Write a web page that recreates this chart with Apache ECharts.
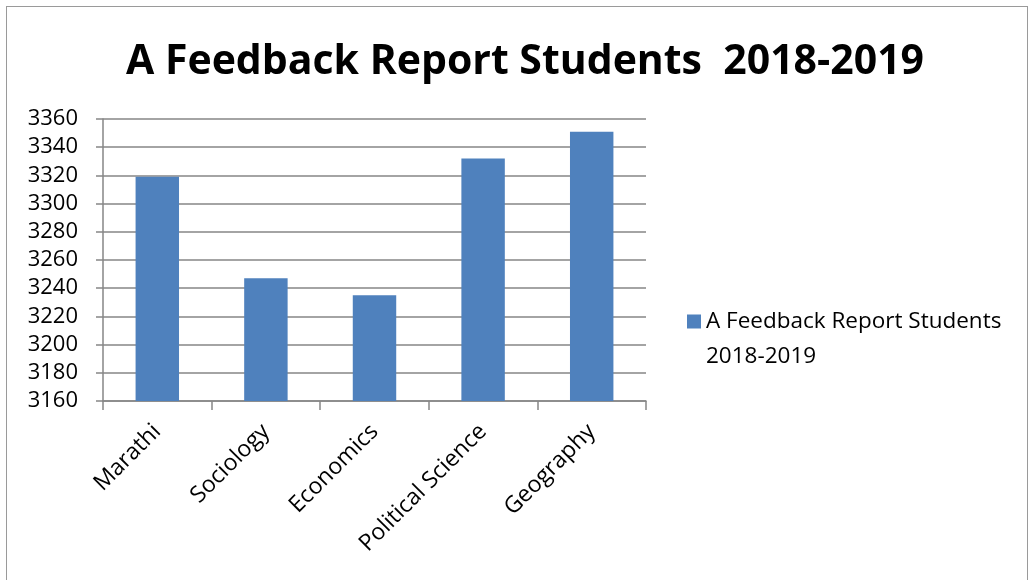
<!DOCTYPE html>
<html>
<head>
<meta charset="utf-8">
<script src="https://cdn.jsdelivr.net/npm/echarts@6/dist/echarts.min.js"></script>
<style>
html,body{margin:0;padding:0;background:#fff;}
#wrap{position:relative;width:1031px;height:580px;overflow:hidden;}
#chart{position:absolute;left:0;top:0;width:1031px;height:580px;}
#frame{position:absolute;left:6px;top:6px;width:1020px;height:620px;border:1px solid #9a9a9a;pointer-events:none;}
</style>
</head>
<body>
<div id="wrap"><div id="chart"></div><div id="frame"></div></div>
<script>
const titleText = 'A Feedback Report Students  2018-2019';
const seriesName = 'A Feedback Report Students 2018-2019';
const categories = ['Marathi', 'Sociology', 'Economics', 'Political Science', 'Geography'];
const values = [3319, 3247, 3235, 3332, 3351];
const yMin = 3160, yMax = 3360, yStep = 20;

const font = '"Open Sans", "Noto Sans", sans-serif';
const chart = echarts.init(document.getElementById('chart'), null, {renderer: 'canvas'});
chart.setOption({
  animation: false,
  backgroundColor: '#ffffff',
  title: {
    text: titleText,
    left: 520, top: 37, textAlign: 'center',
    textStyle: {fontFamily: font, fontWeight: 'bold', fontSize: 41, color: '#000'}
  },
  legend: {
    left: 687, top: 304, padding: 0,
    itemWidth: 14, itemHeight: 49,
    icon: 'path://M0,0H14V14H0Z M0,49H0.01V49Z',
    formatter: function (n) { return 'A Feedback Report Students\n2018-2019'; },
    textStyle: {fontFamily: font, fontSize: 22.5, color: '#000', lineHeight: 35},
    data: [seriesName]
  },
  grid: {left: 103, right: 385, top: 119, bottom: 179, containLabel: false},
  xAxis: {
    type: 'category',
    data: categories,
    boundaryGap: true,
    axisLine: {lineStyle: {color: '#868686', width: 1.5}},
    axisTick: {show: true, length: 9, alignWithLabel: false, lineStyle: {color: '#868686', width: 1.5}},
    axisLabel: {rotate: 45, margin: 27, fontFamily: font, fontSize: 23, color: '#000', interval: 0}
  },
  yAxis: {
    type: 'value',
    min: yMin, max: yMax, interval: yStep,
    axisLine: {show: true, lineStyle: {color: '#868686', width: 1.5}},
    axisTick: {show: true, length: 7, lineStyle: {color: '#868686', width: 1.5}},
    splitLine: {show: true, lineStyle: {color: '#868686', width: 1.5}},
    axisLabel: {margin: 25, fontFamily: font, fontSize: 22, color: '#000', formatter: function (v) { return String(v); }}
  },
  series: [{
    name: seriesName,
    type: 'bar',
    data: values,
    barWidth: '40%',
    itemStyle: {color: '#4F81BD'}
  }]
});
</script>
</body>
</html>
